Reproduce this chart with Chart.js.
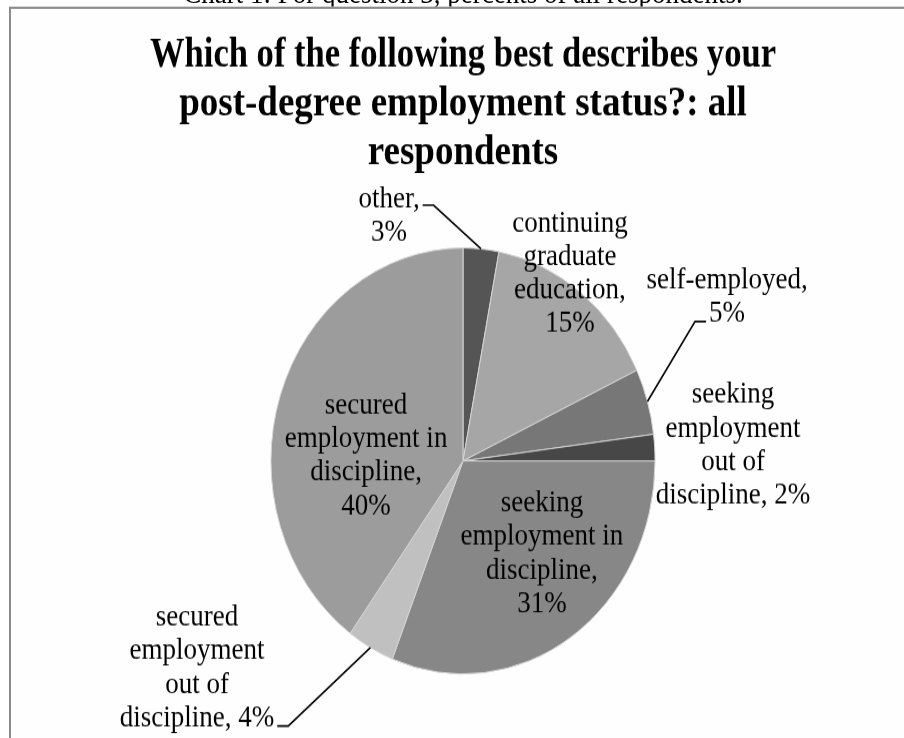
<!DOCTYPE html>
<html>
<head>
<meta charset="utf-8">
<script src="https://cdn.jsdelivr.net/npm/chart.js@4/dist/chart.umd.min.js"></script>
<style>
    html, body { margin: 0; padding: 0; background: #fff; overflow: hidden; }
    /* a figura original está esticada na vertical (~1.109) */
    #palco {
        position: absolute; left: 0; top: 0;
        width: 904px; height: 666px;
        transform: scaleY(1.109); transform-origin: 0 0;
    }
    #legenda {
        position: absolute; left: 0; top: -21px; width: 926px;
        text-align: center; white-space: nowrap;
        font: 27px "Liberation Serif", "Times New Roman", serif; line-height: 30px; color: #000;
    }
    #moldura {
        position: absolute; left: 9px; top: 6px; width: 1000px; height: 800px;
        border: 2px solid #8c8c8c; background: #fefefe;
    }
    #grafico { position: absolute; left: 0; top: 0; }
</style>
</head>
<body>
<div id="palco">
    <div id="legenda">Chart 1: For question 3, percents of all respondents.</div>
    <div id="moldura"></div>
    <canvas id="grafico" width="904" height="666"></canvas>
</div>

<script>
// ================= DADOS =================
const categorias = [
    "other",
    "continuing graduate education",
    "self-employed",
    "seeking employment out of discipline",
    "seeking employment in discipline",
    "secured employment out of discipline",
    "secured employment in discipline"
]
const percentuais = [3, 15, 5, 2, 31, 4, 40]

// texto de cada rótulo, quebrado como no original
const linhasRotulos = [
    ["other,", "3%"],
    ["continuing", "graduate", "education,", "15%"],
    ["self-employed,", "5%"],
    ["seeking", "employment", "out of", "discipline, 2%"],
    ["seeking", "employment in", "discipline,", "31%"],
    ["secured", "employment", "out of", "discipline, 4%"],
    ["secured", "employment in", "discipline,", "40%"]
]

const tituloLinhas = [
    "Which of the following best describes your",
    "post-degree employment status?: all",
    "respondents"
]

// ================= ESTILO =================
const cores = ["#555555", "#a6a6a6", "#777777", "#474747", "#878787", "#c0c0c0", "#9c9c9c"]
const FONTE = '"Liberation Serif", "Times New Roman", serif'

// posição do centro de cada rótulo, em unidades de raio a partir do centro da pizza
const posRotulos = [
    { dx: -0.385, dy: -1.148 },
    { dx: 0.557, dy: -0.879 },
    { dx: 1.375, dy: -0.770 },
    { dx: 1.406, dy: -0.073 },
    { dx: 0.411, dy: 0.436 },
    { dx: -1.385, dy: 0.972 },
    { dx: -0.505, dy: -0.023 }
]

// linhas-guia: qual linha do rótulo, de que lado sai e quanto abaixo do meio da linha
const guias = {
    0: { linha: 0, lado: "direita", desvio: 5 },
    2: { linha: 1, lado: "esquerda", desvio: 7 },
    5: { linha: 3, lado: "direita", desvio: 7 }
}

// ================= PLUGIN DOS RÓTULOS =================
const pluginRotulos = {
    id: "rotulos",
    afterDatasetsDraw(chart) {
        const ctx = chart.ctx
        const arcos = chart.getDatasetMeta(0).data
        const alturaLinha = 30.2

        ctx.save()
        ctx.font = `27px ${FONTE}`
        ctx.fillStyle = "#000"
        ctx.strokeStyle = "#000"
        ctx.lineWidth = 1.6
        ctx.textAlign = "center"
        ctx.textBaseline = "middle"

        arcos.forEach((arco, i) => {
            const { x, y, startAngle, endAngle, outerRadius } = arco.getProps(
                ["x", "y", "startAngle", "endAngle", "outerRadius"], true
            )
            const linhas = linhasRotulos[i]
            const cx = x + posRotulos[i].dx * outerRadius
            const cy = y + posRotulos[i].dy * outerRadius
            const topo = cy - (linhas.length - 1) * alturaLinha / 2

            linhas.forEach((txt, k) => {
                ctx.fillText(txt, cx, topo + k * alturaLinha)
            })

            // linha-guia até a borda da fatia
            const g = guias[i]
            if (g) {
                const meio = (startAngle + endAngle) / 2
                const bx = x + Math.cos(meio) * outerRadius
                const by = y + Math.sin(meio) * outerRadius
                const larg = ctx.measureText(linhas[g.linha]).width
                const ly = topo + g.linha * alturaLinha + g.desvio
                const sinal = g.lado === "direita" ? 1 : -1
                const ax = cx + sinal * (larg / 2 + 3)
                ctx.beginPath()
                ctx.moveTo(ax, ly)
                ctx.lineTo(ax + sinal * 11, ly)
                ctx.lineTo(bx, by)
                ctx.stroke()
            }
        })
        ctx.restore()
    }
}

// ================= GRÁFICO =================
function desenharGrafico() {
    const canvas = document.getElementById("grafico")

    new Chart(canvas, {
        type: "pie",
        data: {
            labels: categorias,
            datasets: [
                {
                    data: percentuais,
                    backgroundColor: cores,
                    borderColor: "#d4d4d4",
                    borderWidth: 1
                }
            ]
        },
        options: {
            responsive: false,
            animation: false,
            rotation: 0,
            layout: {
                padding: { top: 0, bottom: 57.8, left: 150, right: 128 }
            },
            plugins: {
                legend: { display: false },
                tooltip: { enabled: false },
                title: {
                    display: true,
                    text: tituloLinhas,
                    color: "#000",
                    font: { family: FONTE, size: 37, weight: "bold", lineHeight: 1.181 },
                    padding: { top: 29, bottom: 63 }
                }
            }
        },
        plugins: [pluginRotulos]
    })
}

document.addEventListener("DOMContentLoaded", desenharGrafico)
</script>
</body>
</html>
